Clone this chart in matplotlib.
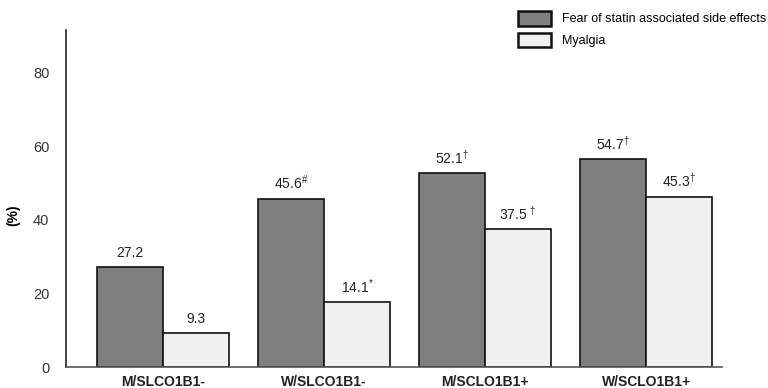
import numpy as np
import matplotlib.pyplot as plt
from matplotlib.patches import Patch

groups = ['M/SLCO1B1-', 'W/SLCO1B1-', 'M/SCLO1B1+', 'W/SCLO1B1+']
fear = [27.2, 45.7, 52.8, 56.5]
myalgia = [9.3, 17.6, 37.5, 46.3]
fear_labels = ['27.2', '45.6$^{\\#}$', '52.1$^{\\dagger}$', '54.7$^{\\dagger}$']
myalgia_labels = ['9.3', '14.1$^{*}$', '37.5 $^{\\dagger}$', '45.3$^{\\dagger}$']
yticks = [0, 20, 40, 60, 80]

plt.rcParams['font.family'] = ['Liberation Sans', 'DejaVu Sans']
plt.rcParams['mathtext.fontset'] = 'custom'
plt.rcParams['mathtext.rm'] = 'Liberation Sans'

fig = plt.figure(figsize=(7.68, 3.88), dpi=100)
ax = fig.add_axes([0.086, 0.054, 0.854, 0.869])

x = np.arange(len(groups))
w = 0.41
b1 = ax.bar(x - w / 2, fear, w, color='#7f7f7f', edgecolor='#111111', linewidth=1.2)
b2 = ax.bar(x + w / 2, myalgia, w, color='#f0f0f0', edgecolor='#111111', linewidth=1.2)

for rect, lab in zip(b1, fear_labels):
    ax.text(rect.get_x() + rect.get_width() / 2, rect.get_height() + 1.8, lab,
            ha='center', va='bottom', fontsize=10, color='#222222')
for rect, lab in zip(b2, myalgia_labels):
    ax.text(rect.get_x() + rect.get_width() / 2, rect.get_height() + 1.8, lab,
            ha='center', va='bottom', fontsize=10, color='#222222')

ax.set_xlim(-0.60, 3.47)
ax.set_ylim(0, 91.7)
ax.set_yticks(yticks)
ax.set_xticks(x)
ax.set_xticklabels(groups, fontweight='bold', fontsize=10, color='#222222')
ax.tick_params(axis='y', length=0, pad=12, labelsize=10.5, labelcolor='#333333')
ax.tick_params(axis='x', length=0, pad=6)
ax.spines['top'].set_visible(False)
ax.spines['right'].set_visible(False)
ax.spines['left'].set_color('#222222')
ax.spines['bottom'].set_color('#555555')
ax.spines['left'].set_linewidth(1.2)
ax.spines['bottom'].set_linewidth(1.2)
ax.set_ylabel('(%)', fontweight='bold', fontsize=10)
ax.yaxis.set_label_coords(-0.070, 0.45)

handles = [Patch(facecolor='#7f7f7f', edgecolor='#111111', linewidth=1.8),
           Patch(facecolor='#f0f0f0', edgecolor='#111111', linewidth=1.8)]
fig.legend(handles, ['Fear of statin associated side effects', 'Myalgia'],
           loc='upper left', bbox_to_anchor=(0.674, 0.972), frameon=False,
           borderpad=0, borderaxespad=0,
           fontsize=9, handlelength=2.7, handleheight=1.45, labelspacing=0.55,
           handletextpad=0.85)

fig.savefig('out.png', dpi=100)
